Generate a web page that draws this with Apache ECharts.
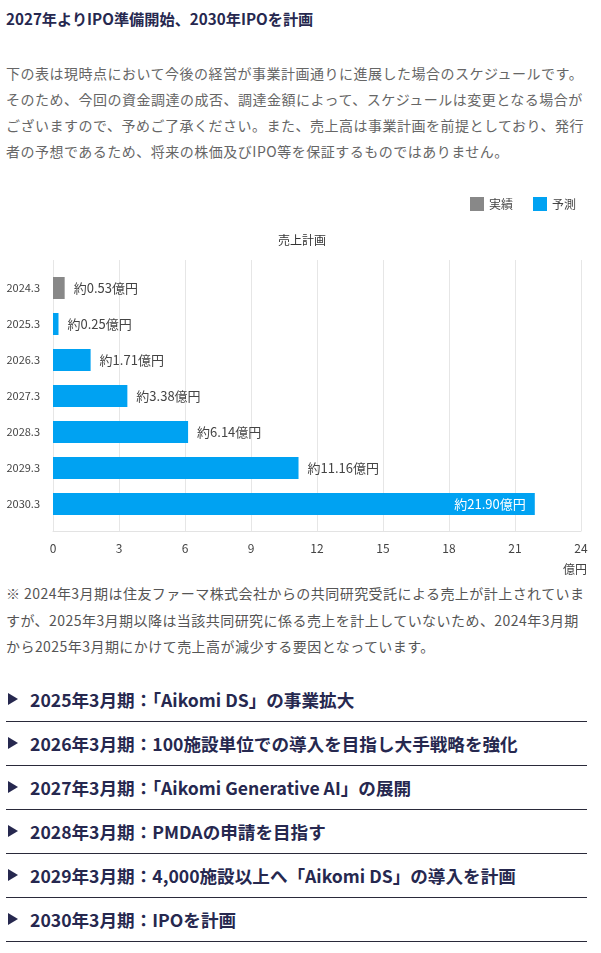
<!DOCTYPE html>
<html lang="ja">
<head>
<meta charset="utf-8">
<script src="https://cdn.jsdelivr.net/npm/echarts@6/dist/echarts.min.js"></script>
<style>
  body { margin: 0; background: #fff; font-family: "Noto Sans CJK JP", "Noto Sans", sans-serif; }
  .page { position: relative; width: 601px; height: 953px; overflow: hidden; }
  .ttl { position: absolute; left: 6px; top: 6px; font-size: 15.2px; font-weight: bold; color: #26284f; line-height: 24px; white-space: nowrap; }
  .lead { position: absolute; left: 6px; top: 60px; font-size: 14px; line-height: 26px; color: #666; letter-spacing: 0.5px; white-space: nowrap; }
  #main { position: absolute; left: 0; top: 180px; width: 601px; height: 400px; }
  .note { position: absolute; left: 6px; top: 580px; font-size: 14px; line-height: 26.5px; color: #555; letter-spacing: 0.45px; white-space: nowrap; }
  .acc { position: absolute; left: 6px; top: 678px; width: 581px; }
  .acc div { position: relative; height: 43px; border-bottom: 1px solid #2a2a3a; line-height: 43px; padding-left: 24px; font-size: 17.6px; font-weight: bold; color: #26284f; white-space: nowrap; }
  .acc div::before { content: ""; position: absolute; left: 2px; top: 15px; border-left: 10px solid #26284f; border-top: 6px solid transparent; border-bottom: 6px solid transparent; }
</style>
</head>
<body>
<div class="page">
  <div class="ttl">2027年よりIPO準備開始、2030年IPOを計画</div>
  <div class="lead">下の表は現時点において今後の経営が事業計画通りに進展した場合のスケジュールです。<br>そのため、今回の資金調達の成否、調達金額によって、スケジュールは変更となる場合が<br>ございますので、予めご了承ください。また、売上高は事業計画を前提としており、発行<br>者の予想であるため、将来の株価及びIPO等を保証するものではありません。</div>
  <div id="main"></div>
  <div class="note">※ 2024年3月期は住友ファーマ株式会社からの共同研究受託による売上が計上されていま<br>すが、2025年3月期以降は当該共同研究に係る売上を計上していないため、2024年3月期<br>から2025年3月期にかけて売上高が減少する要因となっています。</div>
  <div class="acc">
    <div>2025年3月期：「Aikomi DS」の事業拡大</div>
    <div>2026年3月期：100施設単位での導入を目指し大手戦略を強化</div>
    <div>2027年3月期：「Aikomi Generative AI」の展開</div>
    <div>2028年3月期：PMDAの申請を目指す</div>
    <div>2029年3月期：4,000施設以上へ「Aikomi DS」の導入を計画</div>
    <div>2030年3月期：IPOを計画</div>
  </div>
</div>
<script>
  const categories = ['2024.3', '2025.3', '2026.3', '2027.3', '2028.3', '2029.3', '2030.3'];
  const actual = [0.53, null, null, null, null, null, null];
  const forecast = [null, 0.25, 1.71, 3.38, 6.14, 11.16, 21.90];
  const xTicks = [0, 3, 6, 9, 12, 15, 18, 21, 24];

  const chartDom = document.getElementById('main');
  const myChart = echarts.init(chartDom);

  const labelFmt = (params) => '約' + params.value.toFixed(2) + '億円';
  const lastIdx = forecast.length - 1;

  const option = {
    animation: false,
    textStyle: { fontFamily: '"Noto Sans CJK JP", sans-serif' },
    title: {
      text: '売上計画',
      left: 273,
      top: 49,
      textStyle: { fontSize: 12, fontWeight: 'normal', color: '#333' }
    },
    legend: {
      right: 20,
      top: 12,
      itemWidth: 14,
      itemHeight: 14,
      itemGap: 20,
      icon: 'rect',
      textStyle: { fontSize: 12, color: '#444' },
      data: ['実績', '予測']
    },
    grid: [
      { left: 53, right: 20, top: 90, height: 252 },
      { left: 53, right: 20, top: 80, height: 271 }
    ],
    xAxis: [
      { gridIndex: 0, type: 'value', min: xTicks[0], max: xTicks[xTicks.length - 1], interval: 3, show: false },
      {
        gridIndex: 1,
        type: 'value',
        min: xTicks[0],
        max: xTicks[xTicks.length - 1],
        interval: 3,
        axisLine: { show: true, lineStyle: { color: '#e3e3e3' } },
        axisTick: { show: false },
        axisLabel: { fontSize: 12, color: '#444', margin: 11 },
        splitLine: { lineStyle: { color: '#e6e6e6' } },
        name: '億円',
        nameLocation: 'end',
        nameGap: 6,
        nameTextStyle: { fontSize: 12, color: '#444', align: 'right', verticalAlign: 'top', padding: [32, 0, 0, 0] }
      }
    ],
    yAxis: [
      {
        gridIndex: 0,
        type: 'category',
        inverse: true,
        data: categories,
        axisLine: { show: false },
        axisTick: { show: false },
        axisLabel: { fontSize: 11, color: '#444', margin: 13 }
      },
      { gridIndex: 1, type: 'value', show: false }
    ],
    series: [
      {
        name: '実績',
        type: 'bar',
        xAxisIndex: 0,
        yAxisIndex: 0,
        barWidth: 22,
        barGap: '-100%',
        itemStyle: { color: '#888888' },
        label: { show: true, position: 'right', distance: 9, fontSize: 13, color: '#444', formatter: labelFmt },
        data: actual
      },
      {
        name: '予測',
        type: 'bar',
        xAxisIndex: 0,
        yAxisIndex: 0,
        barWidth: 22,
        barGap: '-100%',
        itemStyle: { color: '#00a2f2' },
        label: { show: true, position: 'right', distance: 9, fontSize: 13, color: '#444', formatter: labelFmt },
        data: forecast.map((v, i) => i === lastIdx
          ? { value: v, label: { position: 'insideRight', distance: 9, color: '#fff' } }
          : v)
      }
    ]
  };

  myChart.setOption(option);
</script>
</body>
</html>
